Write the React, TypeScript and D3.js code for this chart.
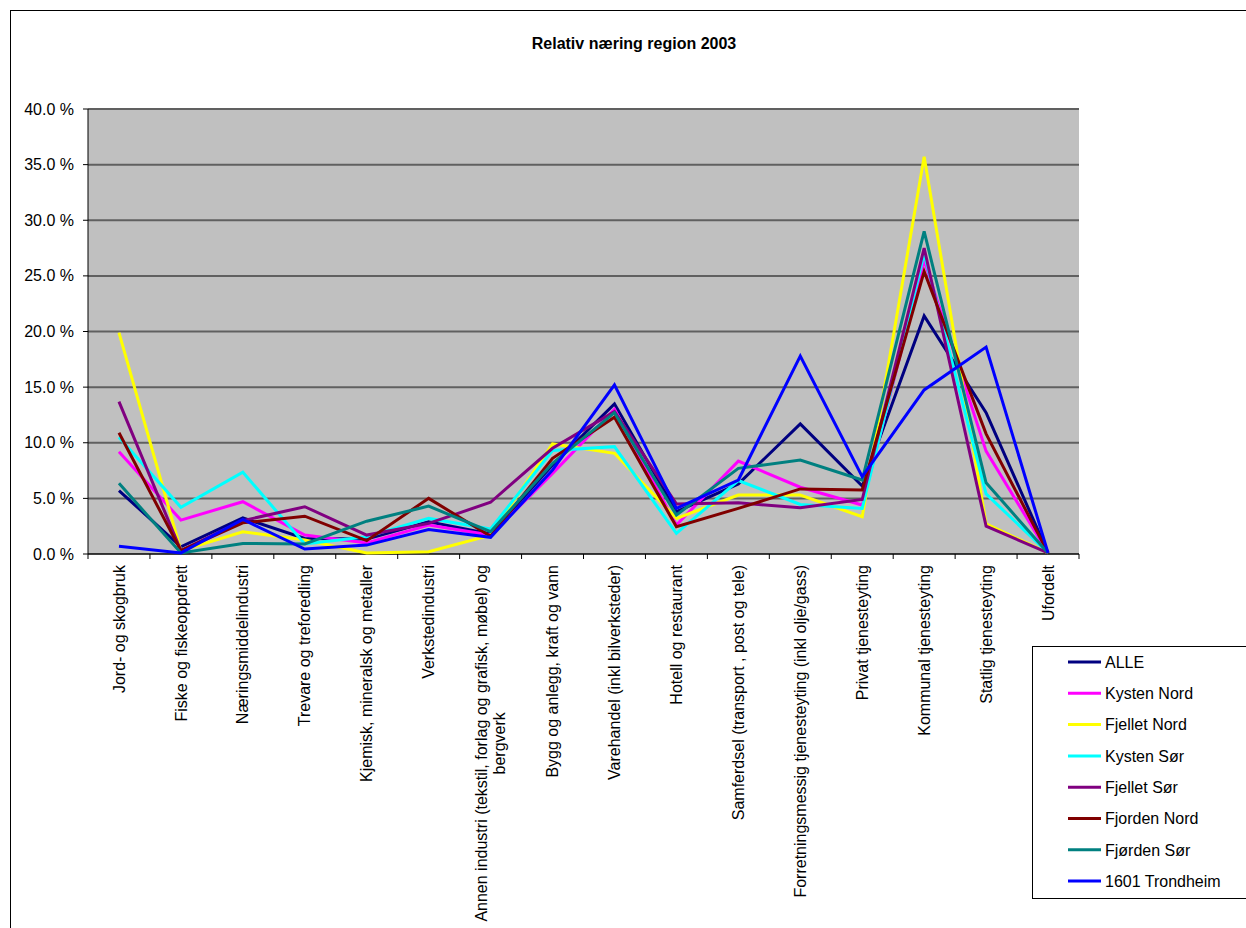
import React from "react";
import * as d3 from "d3";

const categories: string[][] = [
  ["Jord- og skogbruk"],
  ["Fiske og fiskeoppdrett"],
  ["Næringsmiddelindustri"],
  ["Trevare og treforedling"],
  ["Kjemisk, mineralsk og metaller"],
  ["Verkstedindustri"],
  ["Annen industri (tekstil, forlag og grafisk, møbel) og", "bergverk"],
  ["Bygg og anlegg, kraft og vann"],
  ["Varehandel (inkl bilverksteder)"],
  ["Hotell og restaurant"],
  ["Samferdsel (transport , post og tele)"],
  ["Forretningsmessig tjenesteyting (inkl olje/gass)"],
  ["Privat tjenesteyting"],
  ["Kommunal tjenesteyting"],
  ["Statlig tjenesteyting"],
  ["Ufordelt"],
];

const seriesNames = [
  "ALLE",
  "Kysten Nord",
  "Fjellet Nord",
  "Kysten Sør",
  "Fjellet Sør",
  "Fjorden Nord",
  "Fjørden Sør",
  "1601 Trondheim",
];

const alle = [5.7, 0.65, 3.25, 1.4, 1.35, 2.9, 1.8, 8.0, 13.5, 3.8, 6.3, 11.7, 6.1, 21.4, 12.7, 0.1];
const kystenNord = [9.2, 3.05, 4.7, 1.7, 1.0, 2.6, 1.7, 7.25, 13.0, 2.6, 8.35, 6.0, 4.4, 26.4, 9.25, 0.1];
const fjelletNord = [19.9, 0.3, 2.0, 1.25, 0.1, 0.2, 1.7, 9.9, 9.05, 3.2, 5.3, 5.3, 3.35, 35.7, 2.7, 0.1];
const kystenSor = [10.5, 4.2, 7.35, 0.9, 1.55, 3.2, 2.25, 9.3, 9.65, 1.85, 6.6, 4.45, 4.1, 27.0, 5.4, 0.1];
const fjelletSor = [13.7, 0.3, 3.0, 4.25, 1.7, 2.75, 4.65, 9.5, 12.8, 4.5, 4.6, 4.15, 4.9, 27.5, 2.5, 0.1];
const fjordenNord = [10.9, 0.3, 2.8, 3.4, 1.2, 5.0, 1.6, 8.6, 12.3, 2.45, 4.1, 5.85, 5.75, 25.4, 10.8, 0.1];
const fjordenSor = [6.35, 0.1, 0.95, 0.9, 2.95, 4.3, 2.0, 8.15, 12.7, 3.5, 7.7, 8.45, 6.65, 29.0, 6.4, 0.1];
const trondheim = [0.7, 0.1, 3.1, 0.45, 0.8, 2.2, 1.5, 7.55, 15.2, 4.1, 6.65, 17.8, 6.95, 14.75, 18.6, 0.1];

const seriesValues = [alle, kystenNord, fjelletNord, kystenSor, fjelletSor, fjordenNord, fjordenSor, trondheim];
const seriesColors = ["#000080", "#FF00FF", "#FFFF00", "#00FFFF", "#800080", "#800000", "#008080", "#0000FF"];

const yTicks = [0, 5, 10, 15, 20, 25, 30, 35, 40];

const W = 1246;
const H = 928;
const plotL = 88;
const plotR = 1079;
const plotT = 109;
const plotB = 554;
const FONT = "Arial, 'Liberation Sans', sans-serif";

let measureCtx: CanvasRenderingContext2D | null = null;
function measure(text: string, font: string): number {
  if (!measureCtx) {
    const c = document.createElement("canvas");
    measureCtx = c.getContext("2d");
  }
  if (!measureCtx) return text.length * 8;
  measureCtx.font = font;
  return measureCtx.measureText(text).width;
}

export default function App() {
  const x = d3
    .scaleBand<number>()
    .domain(d3.range(categories.length))
    .range([plotL, plotR]);
  const cx = (i: number) => (x(i) as number) + x.bandwidth() / 2;
  const y = d3.scaleLinear().domain([0, 40]).range([plotB, plotT]);
  const line = d3
    .line<number>()
    .x((_, i) => cx(i))
    .y((v) => y(v));

  const fs = 16;
  const labelTop = 565;

  return (
    <div style={{ position: "absolute", left: 0, top: 0 }}>
      <svg width={W} height={H} style={{ display: "block", background: "#fff" }}>
        <rect x={10.5} y={10.5} width={W + 10} height={H + 10} fill="#fff" stroke="#000" strokeWidth={1} />
        <text
          x={634}
          y={49}
          textAnchor="middle"
          fontFamily={FONT}
          fontWeight="bold"
          fontSize={fs}
          fill="#000"
        >
          Relativ næring region 2003
        </text>
        <rect x={plotL} y={plotT} width={plotR - plotL} height={plotB - plotT} fill="#C0C0C0" />
        {yTicks.map((t) => (
          <g key={t}>
            {t > 0 && (
              <line x1={plotL} x2={plotR} y1={y(t)} y2={y(t)} stroke="#606060" strokeWidth={2} />
            )}
            <line x1={plotL - 5} x2={plotL} y1={y(t)} y2={y(t)} stroke="#000" strokeWidth={1} />
            <text
              x={74}
              y={y(t)}
              dy="0.35em"
              textAnchor="end"
              fontFamily={FONT}
              fontSize={fs}
              fill="#000"
            >
              {t.toFixed(1) + " %"}
            </text>
          </g>
        ))}
        <line x1={plotL} x2={plotL} y1={plotT} y2={plotB} stroke="#000" strokeWidth={1} />
        <line x1={plotL} x2={plotR} y1={plotB} y2={plotB} stroke="#000" strokeWidth={1.5} />
        {d3.range(categories.length + 1).map((i) => {
          const xx = i < categories.length ? (x(i) as number) : plotR;
          return <line key={i} x1={xx} x2={xx} y1={plotB} y2={plotB + 5} stroke="#000" strokeWidth={1} />;
        })}
        {seriesValues.map((vals, si) => (
          <path
            key={si}
            d={line(vals) || ""}
            fill="none"
            stroke={seriesColors[si]}
            strokeWidth={3}
            strokeLinejoin="miter"
          />
        ))}
        {categories.map((lines, i) => {
          if (lines.length === 1) {
            return (
              <text
                key={i}
                transform={`translate(${cx(i)},${labelTop}) rotate(-90)`}
                textAnchor="end"
                dy="0.35em"
                fontFamily={FONT}
                fontSize={fs}
                fill="#000"
              >
                {lines[0]}
              </text>
            );
          }
          const w0 = measure(lines[0], `${fs}px Arial`);
          const lh = 18;
          return (
            <g key={i} transform={`translate(${cx(i)},${labelTop + w0 / 2}) rotate(-90)`}>
              {lines.map((l, li) => (
                <text
                  key={li}
                  x={0}
                  y={(li - (lines.length - 1) / 2) * lh}
                  dy="0.35em"
                  textAnchor="middle"
                  fontFamily={FONT}
                  fontSize={fs}
                  fill="#000"
                >
                  {l}
                </text>
              ))}
            </g>
          );
        })}
        <rect x={1032.5} y={646.5} width={230} height={252} fill="#fff" stroke="#000" strokeWidth={1} />
        {seriesNames.map((n, i) => {
          const ly = 662 + i * 31.3;
          return (
            <g key={n}>
              <line x1={1068} x2={1101} y1={ly} y2={ly} stroke={seriesColors[i]} strokeWidth={3} />
              <text x={1105} y={ly} dy="0.36em" fontFamily={FONT} fontSize={fs} fill="#000">
                {n}
              </text>
            </g>
          );
        })}
      </svg>
    </div>
  );
}
